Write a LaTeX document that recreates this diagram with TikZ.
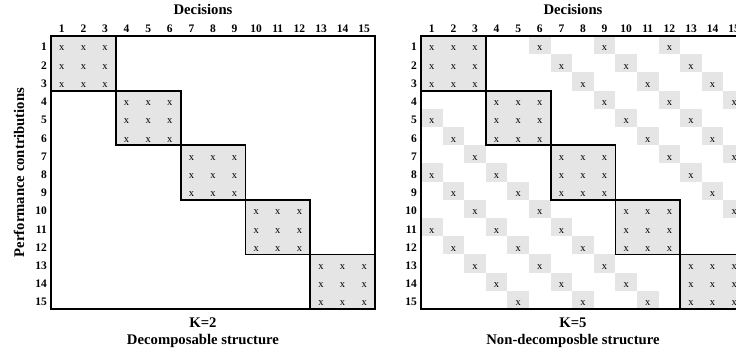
\documentclass[tikz,border=0pt]{standalone}
\usepackage{fontspec}
\setmainfont{Liberation Serif}
\begin{document}
\begin{tikzpicture}[x=1pt,y=-1pt,
  lbl/.style={font=\fontsize{14.7}{16}\selectfont\bfseries, inner sep=0pt},
  num/.style={font=\fontsize{11.5}{13}\selectfont\bfseries, inner sep=0pt, anchor=base},
  xm/.style={font=\fontsize{10.5}{12}\selectfont, inner sep=0pt, anchor=base},
  frameline/.style={line width=1.8pt},
  cellfill/.style={fill=gray!20},
]
\useasboundingbox (0,0) rectangle (736,353);
\clip (0,0) rectangle (736,353);
\def\cw{21.6}
\def\ch{18.2}
\node[lbl, rotate=90] (ylab) at (19,172.5) {Performance contributions};
% extra interactions in right panel
\foreach \r in {0,...,14}{
  \foreach \d in {5,8,11}{
    \pgfmathtruncatemacro\c{mod(\r+\d,15)}
    \fill[cellfill] ({421+\c*\cw},{36+\r*\ch}) rectangle ++(\cw,\ch);
    \node[xm] (xR-\r-\c) at ({421+(\c+0.5)*\cw},{36+(\r+1)*\ch-3.2}) {x};
  }
}
\foreach \ox/\p/\k/\t in {51/L/2/Decomposable structure, 421/R/5/Non-decomposble structure}{
  \node[lbl, anchor=base] (dec\p) at (\ox+152,15) {Decisions};
  \node[lbl, anchor=base] (k\p) at (\ox+152,327) {K=\k};
  \node[lbl, anchor=base] (st\p) at (\ox+152,344) {\t};
  \foreach \i in {0,...,14}{
    \pgfmathtruncatemacro\n{\i+1}
    \node[num] (col\p\n) at ({\ox+(\i+0.5)*\cw},33) {\n};
    \node[num, anchor=base east] (row\p\n) at ({\ox-4},{36+(\i+1)*\ch-3.2}) {\n};
  }
  \foreach \b in {0,...,4}{
    \fill[cellfill] ({\ox+3*\b*\cw},{36+3*\b*\ch}) rectangle ++({3*\cw},{3*\ch});
    \foreach \i in {0,1,2}{
      \foreach \j in {0,1,2}{
        \pgfmathtruncatemacro\rr{3*\b+\i}
        \pgfmathtruncatemacro\cc{3*\b+\j}
        \node[xm] (x\p-\rr-\cc) at ({\ox+(\cc+0.5)*\cw},{36+(\rr+1)*\ch-3.2}) {x};
      }
    }
  }
  \draw[frameline] (\ox,36) rectangle ++({15*\cw},{15*\ch});
  \foreach \b in {0,...,4}{
    \draw[frameline] ({\ox+3*\b*\cw},{36+3*\b*\ch}) rectangle ++({3*\cw},{3*\ch});
  }
}
\end{tikzpicture}
\end{document}
